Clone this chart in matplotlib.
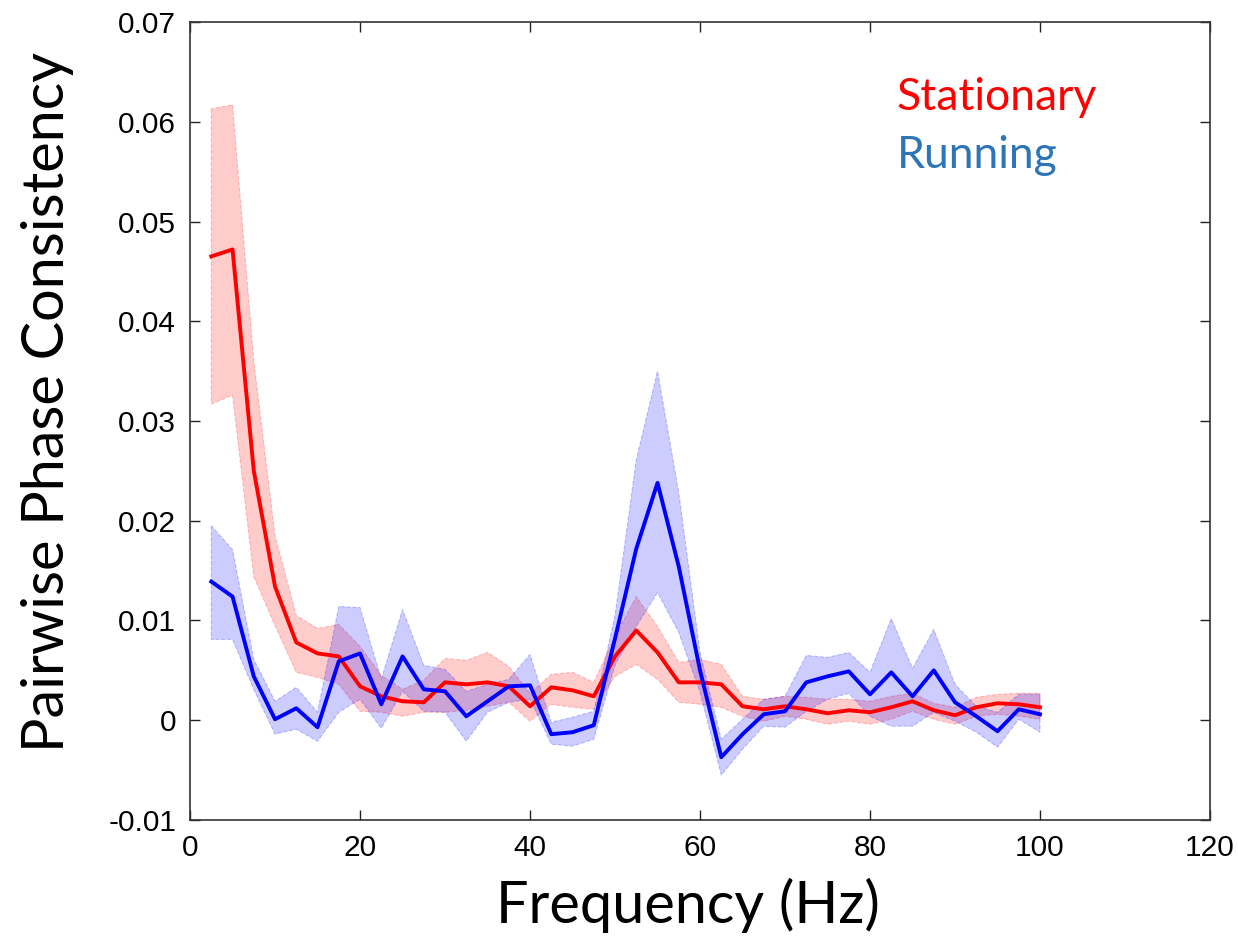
import matplotlib
matplotlib.use("Agg")
import matplotlib.pyplot as plt
import numpy as np

freq = [2.5 * (i + 1) for i in range(40)]

stat_mean = [0.0465, 0.0472, 0.0250, 0.0134, 0.0078, 0.0067, 0.0064, 0.0034, 0.0024, 0.0019,
             0.0018, 0.0038, 0.0036, 0.0038, 0.0034, 0.0014, 0.0033, 0.0030, 0.0024, 0.0064,
             0.0090, 0.0068, 0.0038, 0.0038, 0.0036, 0.0014, 0.0011, 0.0014, 0.0011, 0.0007,
             0.0010, 0.0008, 0.0013, 0.0019, 0.0010, 0.0005, 0.0013, 0.0017, 0.0016, 0.0013]
stat_upper = [0.0613, 0.0617, 0.0360, 0.0185, 0.0105, 0.0092, 0.0096, 0.0074, 0.0045, 0.0031,
              0.0040, 0.0062, 0.0060, 0.0068, 0.0054, 0.0027, 0.0046, 0.0048, 0.0038, 0.0084,
              0.0124, 0.0094, 0.0058, 0.0061, 0.0056, 0.0024, 0.0021, 0.0024, 0.0023, 0.0021,
              0.0021, 0.0019, 0.0024, 0.0027, 0.0017, 0.0013, 0.0023, 0.0026, 0.0027, 0.0027]
stat_lower = [0.0317, 0.0326, 0.0144, 0.0095, 0.0048, 0.0043, 0.0036, 0.0009, 0.0008, 0.0004,
              0.0008, 0.0008, 0.0010, 0.0014, 0.0018, -0.0001, 0.0016, 0.0013, 0.0011, 0.0044,
              0.0056, 0.0041, 0.0018, 0.0016, 0.0013, 0.0004, -0.0001, 0.0004, 0.0001, -0.0004,
              -0.0001, -0.0004, 0.0001, 0.0009, 0.0001, -0.0004, 0.0004, 0.0006, 0.0004, 0.0001]

run_mean = [0.0139, 0.0124, 0.0044, 0.0001, 0.0012, -0.0007, 0.0059, 0.0067, 0.0016, 0.0064,
            0.0031, 0.0029, 0.0004, 0.0019, 0.0034, 0.0035, -0.0014, -0.0012, -0.0005, 0.0082,
            0.0172, 0.0238, 0.0154, 0.0050, -0.0037, -0.0014, 0.0006, 0.0009, 0.0038, 0.0044,
            0.0049, 0.0026, 0.0048, 0.0024, 0.0050, 0.0018, 0.0004, -0.0011, 0.0011, 0.0006]
run_upper = [0.0195, 0.0171, 0.0061, 0.0019, 0.0033, 0.0008, 0.0114, 0.0113, 0.0041, 0.0111,
             0.0055, 0.0051, 0.0029, 0.0036, 0.0041, 0.0066, -0.0002, 0.0003, 0.0009, 0.0105,
             0.0261, 0.0350, 0.0228, 0.0068, -0.0019, 0.0001, 0.0021, 0.0024, 0.0065, 0.0063,
             0.0068, 0.0048, 0.0102, 0.0052, 0.0091, 0.0036, 0.0014, 0.0008, 0.0026, 0.0026]
run_lower = [0.0081, 0.0081, 0.0031, -0.0014, -0.0009, -0.0021, 0.0008, 0.0021, -0.0008, 0.0029,
             0.0009, 0.0008, -0.0021, 0.0008, 0.0018, 0.0021, -0.0024, -0.0026, -0.0019, 0.0055,
             0.0094, 0.0128, 0.0088, 0.0028, -0.0055, -0.0029, -0.0006, -0.0007, 0.0009, 0.0021,
             0.0027, 0.0004, -0.0006, -0.0006, 0.0008, -0.0001, -0.0012, -0.0027, 0.0001, -0.0012]

xticks = [0, 20, 40, 60, 80, 100, 120]
yticks = [-0.01, 0, 0.01, 0.02, 0.03, 0.04, 0.05, 0.06, 0.07]
ytick_labels = ["-0.01", "0", "0.01", "0.02", "0.03", "0.04", "0.05", "0.06", "0.07"]

fig = plt.figure(figsize=(12.38, 9.41), dpi=100)
ax = fig.add_axes([0.1535, 0.1286, 0.8239, 0.848])

ax.fill_between(freq, stat_lower, stat_upper, facecolor=(1, 0, 0, 0.2),
                edgecolor=(1, 0, 0, 0.22), linewidth=0.8, linestyle="--", zorder=1)
ax.fill_between(freq, run_lower, run_upper, facecolor=(0, 0, 1, 0.2),
                edgecolor=(0, 0, 1, 0.22), linewidth=0.8, linestyle="--", zorder=1)
ax.plot(freq, stat_mean, color="#ff0000", linewidth=2.8, zorder=3)
ax.plot(freq, run_mean, color="#0000ff", linewidth=2.8, zorder=3)

ax.set_xlim(0, 120)
ax.set_ylim(-0.01, 0.07)
ax.set_xticks(xticks)
ax.set_xticklabels([str(t) for t in xticks])
ax.set_yticks(yticks)
ax.set_yticklabels(ytick_labels)
ax.tick_params(direction="in", length=7, width=1, labelsize=21.5, pad=10,
               top=True, right=True, colors="#222222", labelcolor="black")
for lab in ax.get_xticklabels() + ax.get_yticklabels():
    lab.set_family("Liberation Sans")
for s in ax.spines.values():
    s.set_color("#333333")
    s.set_linewidth(1.2)

ax.set_xlabel("Frequency (Hz)", family="Lato", fontsize=41.5, va="center")
ax.xaxis.set_label_coords(0.488, -0.1065)
ax.set_ylabel("Pairwise Phase Consistency", family="Lato", fontsize=41.5, va="center")
ax.yaxis.set_label_coords(-0.140, 0.524)

ax.text(0.693, 0.906, "Stationary", transform=ax.transAxes, color="#ff0000",
        family="Lato", fontsize=32, va="center")
ax.text(0.693, 0.833, "Running", transform=ax.transAxes, color="#2e75b6",
        family="Lato", fontsize=32, va="center")

fig.savefig("out.png", dpi=100)
